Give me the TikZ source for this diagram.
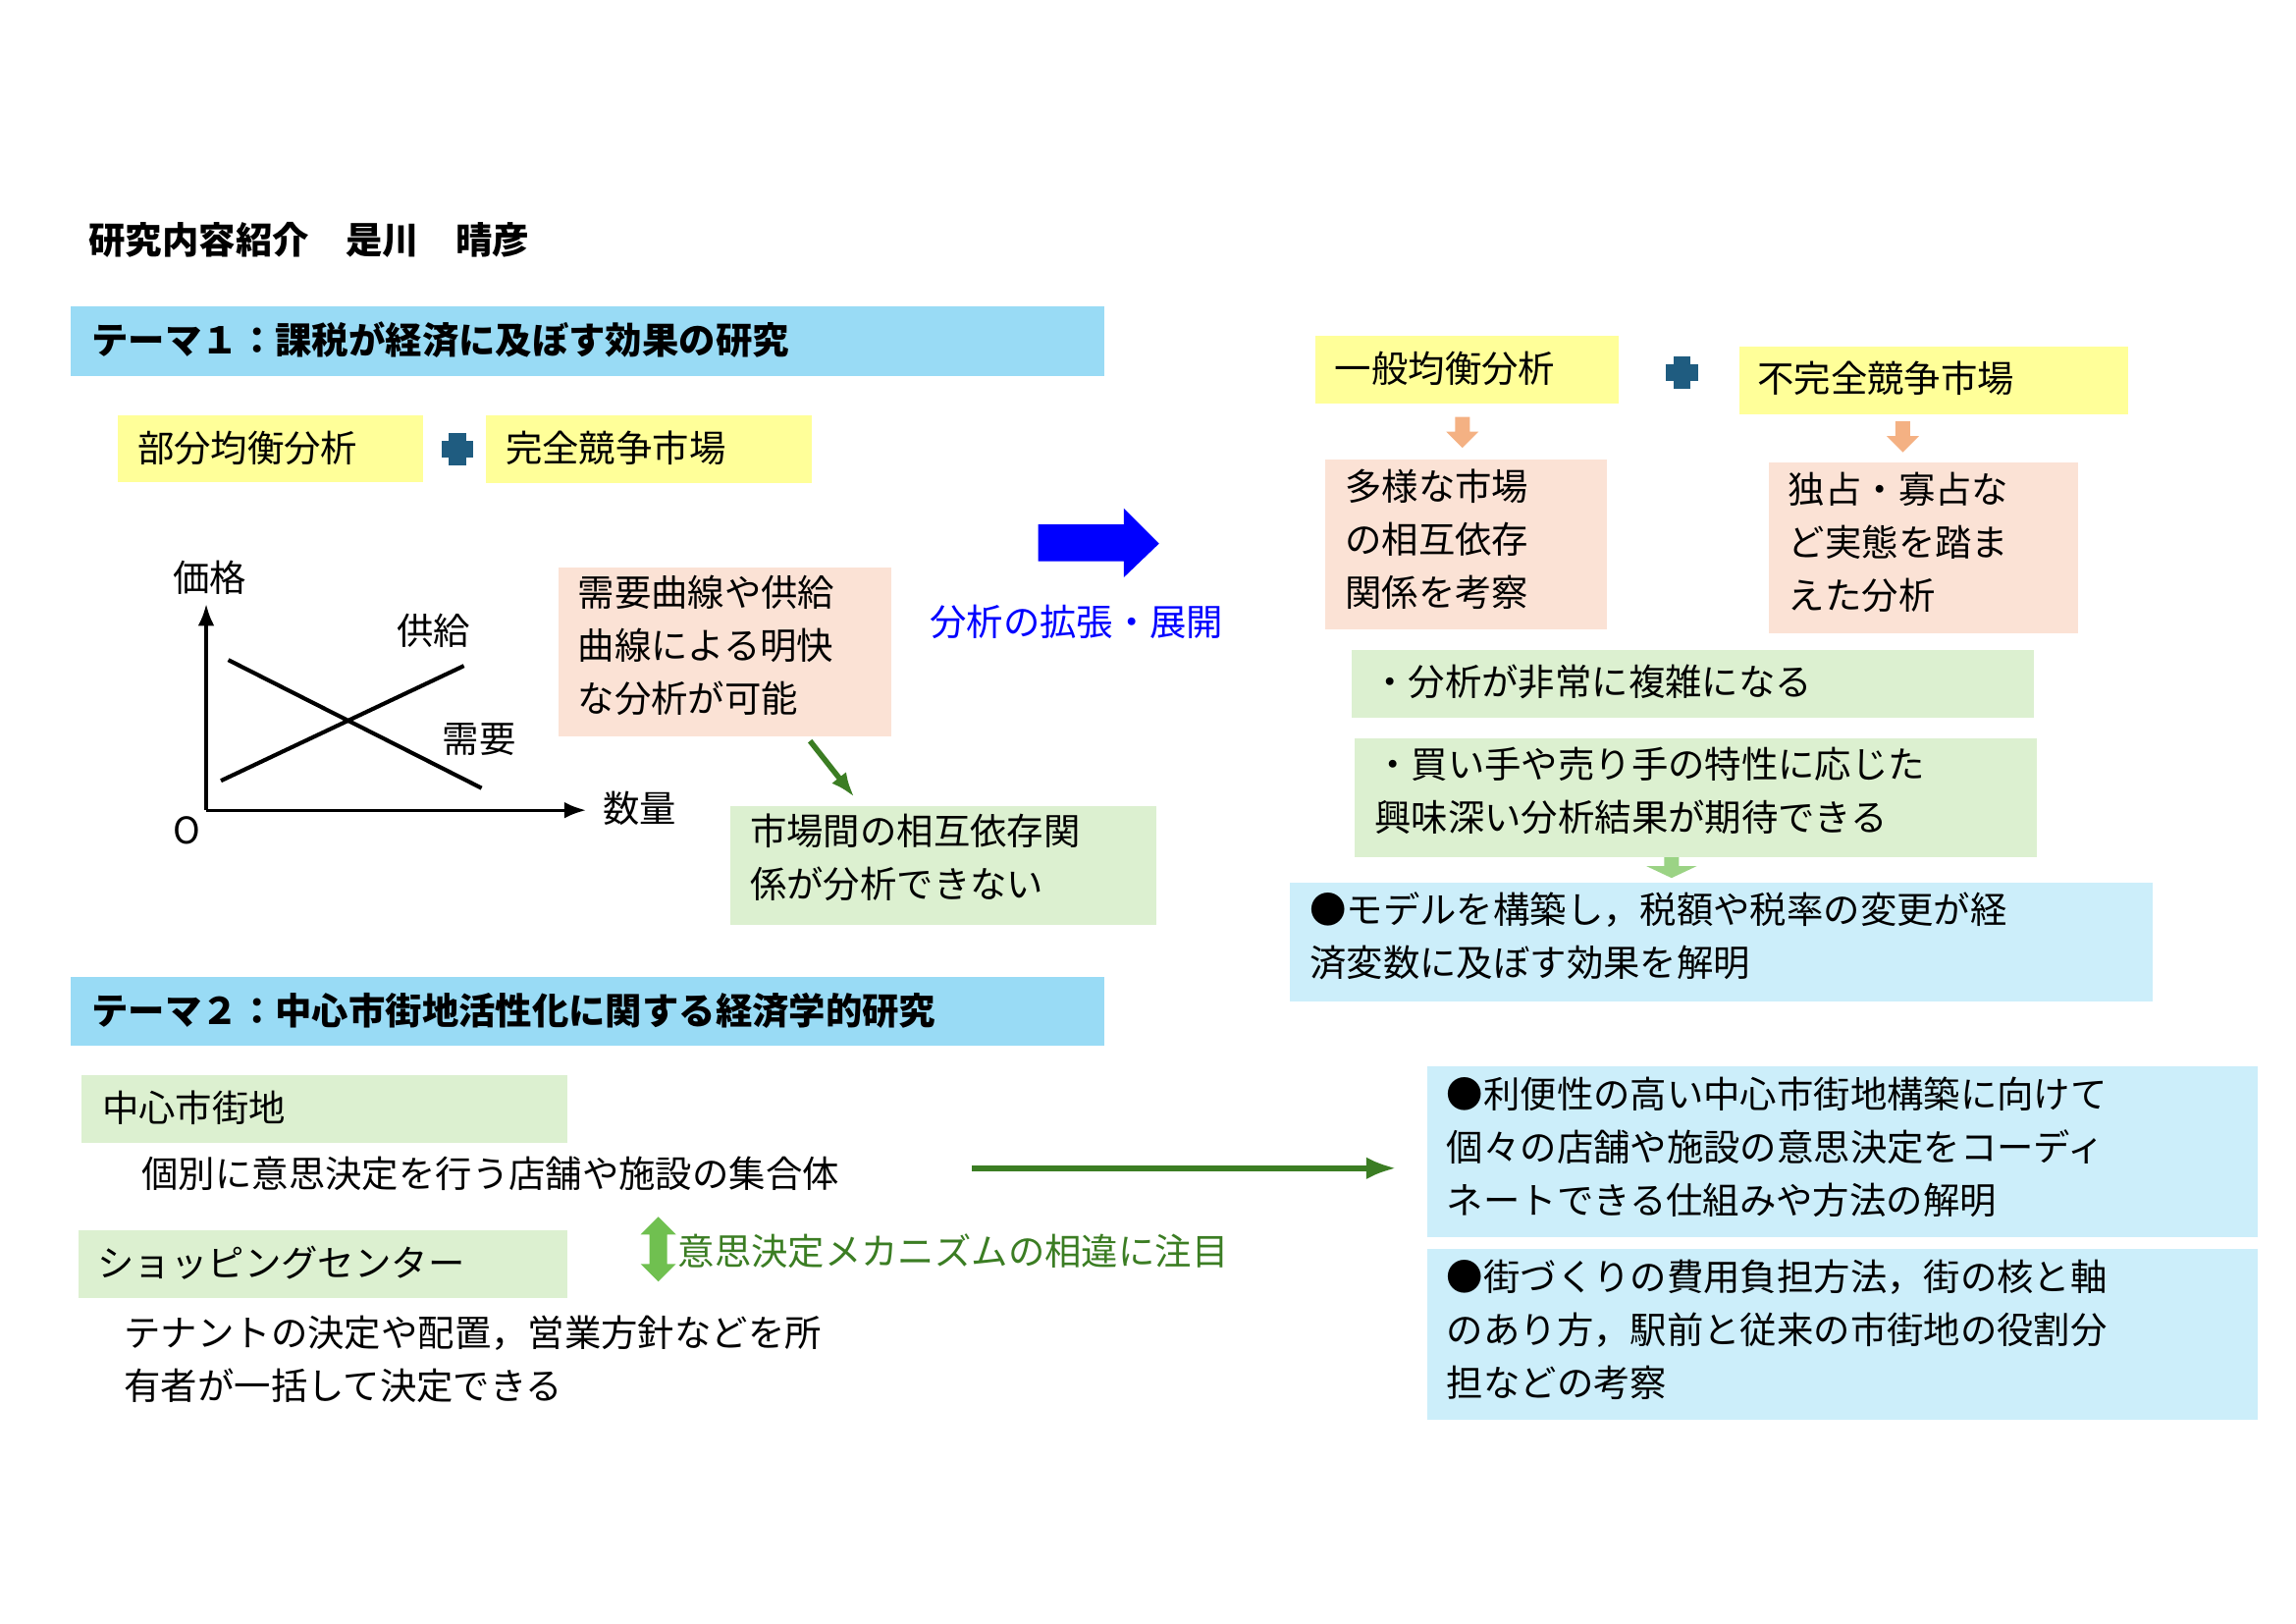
\documentclass[tikz,border=0pt]{standalone}
\usepackage{fontspec}
\setmainfont{Noto Sans CJK JP}
\usetikzlibrary{arrows.meta}
\definecolor{tbl}{HTML}{99DBF5}
\definecolor{ylw}{HTML}{FFFF99}
\definecolor{pnk}{HTML}{FBE2D5}
\definecolor{grn}{HTML}{DCF0D0}
\definecolor{lbl}{HTML}{CCEEFA}
\definecolor{dgr}{HTML}{3B7D23}
\definecolor{lgr}{HTML}{70C050}
\definecolor{sal}{HTML}{F4B183}
\definecolor{teal}{HTML}{1F5C80}
\tikzset{
 txt/.style={anchor=west,inner sep=0pt,font=\fontsize{13.5}{19.5}\selectfont},
 mtxt/.style={anchor=north west,inner sep=0pt,align=left,font=\fontsize{13.5}{19.5}\selectfont},
 btxt/.style={anchor=west,inner sep=0pt,font=\bfseries\fontsize{13.5}{19.5}\selectfont},
 plus/.style={teal,line width=2.2mm},
}
\begin{document}
\begin{tikzpicture}[x=0.01905cm,y=-0.01905cm]
\useasboundingbox (0,0) rectangle (1559,1102);
% title
\node[btxt] (title) at (60,163) {研究内容紹介　是川　晴彦};
% theme 1
\fill[tbl] (48,208) rectangle (750,255);
\node[btxt] (t1) at (62,231) {テーマ１：課税が経済に及ぼす効果の研究};
\fill[ylw] (80,282) rectangle (287,327);
\node[txt] (pe) at (93,304) {部分均衡分析};
\draw[plus] (300,305)--(321,305) (310.5,294)--(310.5,316);
\fill[ylw] (330,282) rectangle (551,328);
\node[txt] (pc) at (343,304) {完全競争市場};
% graph
\coordinate (o) at (140,550);
\coordinate (ya) at (140,410);
\coordinate (xa) at (398,550);
\draw[line width=1.2pt,-{Latex[length=8pt]}] (o)--(ya);
\draw[line width=1.2pt,-{Latex[length=8pt]}] (o)--(xa);
\coordinate (s1) at (150,530); \coordinate (s2) at (315,452);
\coordinate (d1) at (155,448); \coordinate (d2) at (327,535);
\draw[line width=1.5pt] (s1)--(s2);
\draw[line width=1.5pt] (d1)--(d2);
\node[txt] (pr) at (117,392) {価格};
\node[txt] (sp) at (269,428) {供給};
\node[txt] (dm) at (300,502) {需要};
\node[txt] (qt) at (409,549) {数量};
\node[txt] (zero) at (117,564) {O};
\fill[pnk] (379,385) rectangle (605,500);
\node[mtxt] (pb1) at (392,390) {需要曲線や供給\\曲線による明快\\な分析が可能};
\fill[grn] (496,547) rectangle (785,628);
\node[mtxt] (gb1) at (509,552) {市場間の相互依存関\\係が分析できない};
\coordinate (ga1) at (550,503); \coordinate (ga2) at (580,541);
\draw[dgr,line width=2pt,-{Latex[length=9pt]}] (ga1)--(ga2);
% big arrow
\fill[blue] (705,356)--(763,356)--(763,345)--(787,369)--(763,392)--(763,381)--(705,381)--cycle;
\node[txt,blue] (ext) at (631,422) {分析の拡張・展開};
% right top
\fill[ylw] (893,228) rectangle (1099,274);
\node[txt] (ge) at (906,250) {一般均衡分析};
\draw[plus] (1131,253)--(1153,253) (1142,242)--(1142,264);
\fill[ylw] (1181,235) rectangle (1445,281);
\node[txt] (ic) at (1193,257) {不完全競争市場};
\fill[sal] (988,283) rectangle (998,293) (982,293)--(1004,293)--(993,304)--cycle;
\fill[sal] (1287,286) rectangle (1297,296) (1281,296)--(1303,296)--(1292,307)--cycle;
\fill[pnk] (900,312) rectangle (1091,427);
\node[mtxt] (pb2) at (913,318) {多様な市場\\の相互依存\\関係を考察};
\fill[pnk] (1201,314) rectangle (1411,430);
\node[mtxt] (pb3) at (1214,320) {独占・寡占な\\ど実態を踏ま\\えた分析};
\fill[grn] (918,441) rectangle (1381,487);
\node[txt] (gb2) at (931,463) {・分析が非常に複雑になる};
\fill[grn] (920,501) rectangle (1383,582);
\node[mtxt] (gb3) at (933,507) {・買い手や売り手の特性に応じた\\興味深い分析結果が期待できる};
\fill[lgr!70] (1130,582) rectangle (1140,588) (1118,588)--(1152,588)--(1135,596)--cycle;
\fill[lbl] (876,599) rectangle (1462,680);
\node[mtxt] (lb1) at (889,605) {●モデルを構築し，税額や税率の変更が経\\済変数に及ぼす効果を解明};
% theme 2
\fill[tbl] (48,663) rectangle (750,710);
\node[btxt] (t2) at (62,686) {テーマ２：中心市街地活性化に関する経済学的研究};
\fill[grn] (55,730) rectangle (385,776);
\node[txt] (cc) at (69,752) {中心市街地};
\node[txt] (cc2) at (96,797) {個別に意思決定を行う店舗や施設の集合体};
\coordinate (ar1) at (660,793); \coordinate (ar2) at (948,793);
\draw[dgr,line width=2pt,-{Latex[length=11pt]}] (ar1)--(ar2);
\fill[grn] (53,835) rectangle (385,881);
\node[txt] (sc) at (66,857) {ショッピングセンター};
\fill[lgr] (441,838) rectangle (453,858)
  (435,838)--(459,838)--(447,826)--cycle
  (435,858)--(459,858)--(447,870)--cycle;
\node[txt,dgr] (diff) at (460,849) {意思決定メカニズムの相違に注目};
\node[mtxt] (sc2) at (84,893) {テナントの決定や配置，営業方針などを所\\有者が一括して決定できる};
\fill[lbl] (969,724) rectangle (1533,840);
\node[mtxt] (lb2) at (982,731) {●利便性の高い中心市街地構築に向けて\\個々の店舗や施設の意思決定をコーディ\\ネートできる仕組みや方法の解明};
\fill[lbl] (969,848) rectangle (1533,964);
\node[mtxt] (lb3) at (982,855) {●街づくりの費用負担方法，街の核と軸\\のあり方，駅前と従来の市街地の役割分\\担などの考察};
\end{tikzpicture}
\end{document}
